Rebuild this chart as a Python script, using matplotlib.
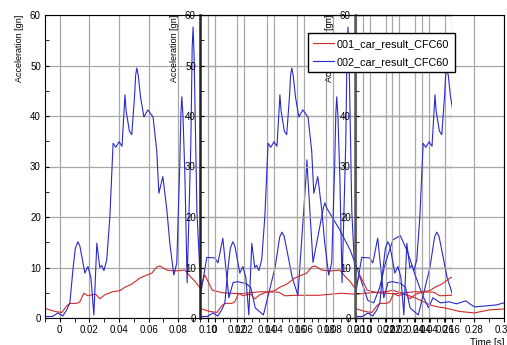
import matplotlib
matplotlib.use("Agg")
import matplotlib.pyplot as plt
from matplotlib.ticker import MultipleLocator

plt.rcParams["font.family"] = ["Liberation Sans", "DejaVu Sans"]

# acceleration traces (time s, acceleration gn)
t_001 = [-0.010, -0.0034, 0.0014, 0.0047, 0.0068, 0.0115, 0.0135, 0.0162, 0.0190,
         0.0216, 0.0243, 0.0270, 0.0304, 0.0358, 0.0405, 0.0440, 0.0486, 0.0540,
         0.0588, 0.0622, 0.0655, 0.0676, 0.0723, 0.0777, 0.0845, 0.0878, 0.0912,
         0.0946, 0.0980, 0.1030, 0.1100, 0.1220, 0.1350, 0.1480, 0.1520, 0.1600,
         0.1750, 0.1900, 0.2000, 0.2100, 0.2200, 0.2250, 0.2300, 0.2400, 0.2450,
         0.2500, 0.2550, 0.2600, 0.2700, 0.2800, 0.2900, 0.3000]
a_001 = [1.9, 1.3, 1.1, 2.4, 2.9, 2.9, 3.2, 4.9, 4.4,
         4.6, 4.7, 3.8, 4.6, 5.2, 5.4, 6.1, 6.7, 7.9,
         8.5, 8.9, 10.1, 10.3, 9.5, 9.3, 9.5, 8.3, 7.3,
         6.0, 8.5, 5.5, 5.0, 4.8, 5.2, 5.1, 4.4, 4.5,
         4.5, 4.9, 4.7, 5.0, 5.2, 5.5, 5.0, 4.0, 3.3,
         2.6, 2.2, 2.0, 1.3, 1.0, 1.6, 1.8]

t_002 = [-0.010, -0.005, -0.0013, 0.002, 0.0045, 0.0068, 0.0090, 0.0105, 0.0122,
         0.0135, 0.0150, 0.0169, 0.0190, 0.0210, 0.0230, 0.0250, 0.0270, 0.0283,
         0.0298, 0.0317, 0.0338, 0.0360, 0.0378, 0.0400, 0.0420, 0.0433, 0.0440,
         0.0448, 0.0470, 0.0486, 0.0505, 0.0512, 0.0520, 0.0530, 0.0545, 0.0568,
         0.0595, 0.0630, 0.0655, 0.0669, 0.0696, 0.0723, 0.0743, 0.0770, 0.0790,
         0.0810, 0.0818, 0.0824, 0.0832, 0.0845, 0.0860, 0.0885, 0.0894, 0.0900,
         0.0907, 0.0926, 0.0953, 0.0993, 0.1047, 0.1068, 0.1101, 0.1142, 0.1170,
         0.1200, 0.1260, 0.1290, 0.1320, 0.1375, 0.1454, 0.1485, 0.1500, 0.1515,
         0.1530, 0.1570, 0.1608, 0.1662, 0.1669, 0.1676, 0.1710, 0.1780, 0.1791,
         0.1802, 0.1890, 0.1960, 0.2000, 0.2040, 0.2080, 0.2120, 0.2160, 0.2200,
         0.2250, 0.2300, 0.2350, 0.2400, 0.2450, 0.2490, 0.2520, 0.2570, 0.2630,
         0.2680, 0.2740, 0.2800, 0.2880, 0.2950, 0.3000]
a_002 = [0.3, 0.3, 1.0, 0.4, 1.5, 3.0, 10.0, 13.8, 15.1,
         14.3, 12.0, 8.9, 10.2, 8.0, 0.6, 14.8, 10.0, 10.4,
         9.4, 11.5, 20.0, 34.6, 33.8, 34.9, 34.0, 40.5, 44.2,
         41.0, 37.0, 36.3, 44.0, 48.0, 49.5, 48.0, 43.8, 39.8,
         41.2, 39.8, 33.0, 24.7, 28.0, 21.4, 14.8, 8.5, 10.9,
         30.0, 40.5, 43.8, 40.0, 28.0, 7.0, 34.6, 53.5, 57.6,
         52.0, 21.0, 5.1, 12.0, 11.9, 10.9, 15.8, 4.0, 7.0,
         7.2, 6.8, 6.0, 2.0, 0.6, 10.0, 16.0, 17.0, 16.2,
         14.0, 8.0, 4.5, 27.5, 31.3, 27.5, 11.0, 21.8, 22.8,
         21.8, 17.5, 13.5, 10.5, 7.0, 3.5, 3.0, 6.0, 11.0,
         15.5, 16.3, 13.0, 8.5, 4.5, 2.0, 4.0, 3.0, 3.2,
         2.8, 3.4, 2.2, 2.4, 2.6, 3.0]

labels = ["001_car_result_CFC60", "002_car_result_CFC60"]
colors = ["#cc2a2a", "#2a2acc"]

W, H = 507, 345


def frac(left, right, top=15, bottom=318):
    return [left / W, 1 - bottom / H, (right - left) / W, (bottom - top) / H]


def tick_fmt(v, pos):
    return "0" if abs(v) < 1e-9 else "%.2f" % v


fig = plt.figure(figsize=(W / 100, H / 100), dpi=100)

# the export stacked three copies of the panel on top of each other
panels = [(45, 504, 0.30), (200, 452, 0.1603), (355, 452, 0.0555)]
axes = []
for i, (x0, x1, xmax) in enumerate(panels):
    ax = fig.add_axes(frac(x0, x1))
    ax.patch.set_alpha(0.0 if i else 1.0)
    l1, = ax.plot(t_001, a_001, color=colors[0], lw=0.8)
    l2, = ax.plot(t_002, a_002, color=colors[1], lw=0.8)
    ax.set_xlim(-0.01, xmax)
    ax.set_ylim(0, 60)
    ax.xaxis.set_major_locator(MultipleLocator(0.02))
    ax.xaxis.set_minor_locator(MultipleLocator(0.01))
    ax.yaxis.set_major_locator(MultipleLocator(10))
    ax.yaxis.set_minor_locator(MultipleLocator(5))
    ax.xaxis.set_major_formatter(tick_fmt)
    ax.grid(True, color="#a8a8a8", lw=0.9)
    ax.set_axisbelow(True)
    ax.tick_params(axis="y", which="both", direction="in", length=3,
                   labelsize=7, pad=3)
    ax.tick_params(axis="x", which="both", direction="out", length=3,
                   labelsize=7, pad=2)
    ax.set_ylabel("Acceleration [gn]", fontsize=6.5, loc="top", labelpad=4)
    if i:
        ax.spines["right"].set_visible(False)
        ax.spines["left"].set_linewidth(1.8)
        ax.spines["left"].set_color("#222222" if i == 1 else "#555555")
    axes.append(ax)

axes[0].set_xlabel("Time [s]", fontsize=7, loc="right", labelpad=2)

fig.legend([l1, l2], labels, loc="upper right",
           bbox_to_anchor=(460 / W, 1 - 28 / H), fontsize=7.8, frameon=True,
           fancybox=False, edgecolor="black", framealpha=1, handlelength=1.9,
           borderpad=0.5, labelspacing=0.75, handletextpad=0.3)

fig.savefig("out.png", dpi=100)
